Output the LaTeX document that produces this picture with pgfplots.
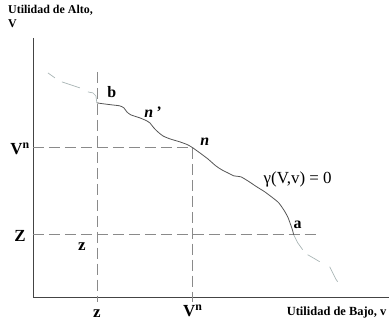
\documentclass[border=0pt]{standalone}
\usepackage{pgfplots}
\pgfplotsset{compat=1.18}
\usepackage{fontspec}
\setmainfont{Liberation Serif}
\definecolor{curvec}{HTML}{555555}
\definecolor{faintc}{HTML}{A8B4B4}
\definecolor{dashc}{HTML}{8A8A8A}
\definecolor{axisc}{HTML}{444444}
\begin{document}
\begin{tikzpicture}
\begin{axis}[
  width=389bp, height=324bp, scale only axis,
  xmin=0, xmax=389, ymin=0, ymax=324, y dir=reverse,
  hide axis, clip=false,
]
\addplot[draw=none] coordinates {(0,0) (389,324)};
% axes
\addplot[axisc, line width=0.9pt] coordinates {(33,38) (33,298) (389,298)};
% dashed guides
\addplot[dashc, line width=0.7pt, dash pattern=on 11bp off 5bp] coordinates {(97,72) (97,302)};
\addplot[dashc, line width=0.7pt, dash pattern=on 11bp off 5bp] coordinates {(193,148) (193,302)};
\addplot[dashc, line width=0.7pt, dash pattern=on 11bp off 5bp] coordinates {(33,148) (193,148)};
\addplot[dashc, line width=0.7pt, dash pattern=on 11bp off 5bp] coordinates {(33,235) (318,235)};
% faint continuation
\addplot[faintc, line width=0.7pt] coordinates {(48,73) (55,78)};
\addplot[faintc, line width=0.7pt] coordinates {(62,82) (80,88)};
\addplot[faintc, line width=0.7pt] coordinates {(88,92) (93,93) (96,96) (97,103)};
\addplot[faintc, line width=0.7pt] coordinates {(294,235) (298,243) (303,250)};
\addplot[faintc, line width=0.7pt] coordinates {(308,255) (315,259) (320,262)};
\addplot[faintc, line width=0.7pt] coordinates {(330,267) (333,273) (336,279) (338,282)};
% main curve
\addplot[curvec, line width=0.8pt, smooth, tension=0.4] coordinates {
(97,103) (104,104) (112,105) (120,106) (124,108) (127,112) (131,115) (140,118)
(147,121) (150,123) (154,128) (158,132) (163,136) (170,139) (180,142) (188,145)
(193,148) (200,153) (208,159) (216,166) (222,170) (228,173) (234,176) (241,177)
(248,181) (257,187) (265,192) (273,198) (279,203) (284,210) (288,217) (291,225)
(293,231) (294,235)};
% labels
\node[anchor=north west, align=left, font=\fontsize{12}{14}\selectfont\bfseries, inner sep=0pt] at (axis cs:8,5) {Utilidad de Alto,\\V};
\node[anchor=west, font=\fontsize{12.5}{14}\selectfont\bfseries, inner sep=0pt] at (axis cs:287,313) {Utilidad de Bajo, v};
\node[font=\fontsize{16}{16}\selectfont\bfseries, inner sep=0pt] at (axis cs:112,92) {b};
\node[font=\fontsize{16}{16}\selectfont\bfseries\itshape, inner sep=0pt] at (axis cs:153,112) {n\,'};
\node[font=\fontsize{16}{16}\selectfont\bfseries\itshape, inner sep=0pt] at (axis cs:205,142) {n};
\node[font=\fontsize{17}{17}\selectfont, inner sep=0pt] at (axis cs:298,180) {γ(V,v) = 0};
\node[font=\fontsize{16}{16}\selectfont\bfseries, inner sep=0pt] at (axis cs:298,225) {a};
\node[font=\fontsize{17}{17}\selectfont\bfseries, inner sep=0pt] at (axis cs:20,149) {V\textsuperscript{n}};
\node[font=\fontsize{17}{17}\selectfont\bfseries, inner sep=0pt] at (axis cs:20,236) {Z};
\node[font=\fontsize{17}{17}\selectfont\bfseries, inner sep=0pt] at (axis cs:82,247) {z};
\node[font=\fontsize{17}{17}\selectfont\bfseries, inner sep=0pt] at (axis cs:97,314) {z};
\node[font=\fontsize{17}{17}\selectfont\bfseries, inner sep=0pt] at (axis cs:193,311) {V\textsuperscript{n}};
\end{axis}
\end{tikzpicture}
\end{document}
